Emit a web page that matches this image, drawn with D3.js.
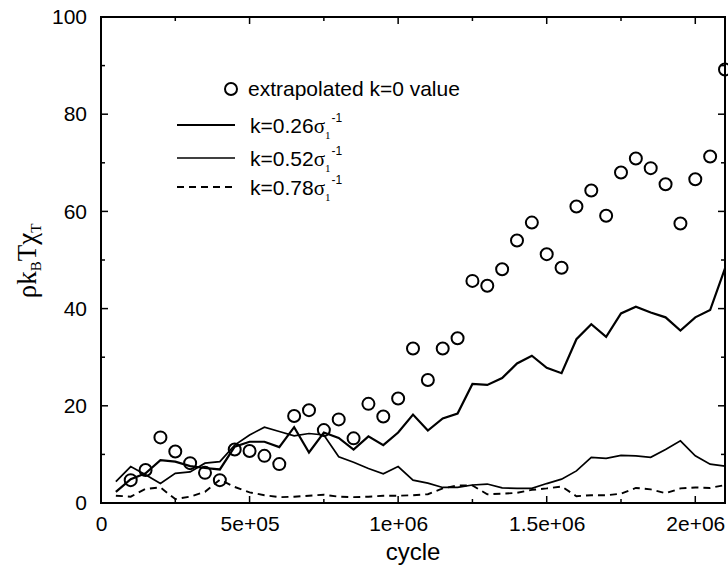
<!DOCTYPE html>
<html>
<head>
<meta charset="utf-8">
<script src="https://cdn.jsdelivr.net/npm/d3@7"></script>
<style>
  body { margin: 0; background: #fff; }
  svg { display: block; }
  text { font-family: "Liberation Sans", Arial, sans-serif; fill: #000; }
</style>
</head>
<body>
<svg id="chart" width="728" height="566"></svg>
<script>
// ---- data ----
const lineCycles = d3.range(42).map(i => (i + 1) * 50000);      // 5e4 .. 2.1e6
const circleCycles = d3.range(41).map(i => (i + 2) * 50000);    // 1e5 .. 2.1e6

const extrapolated = [4.7, 6.8, 13.5, 10.6, 8.2, 6.2, 4.7, 11.0, 10.7, 9.7, 8.0, 17.9, 19.1, 15.0,
  17.2, 13.3, 20.4, 17.8, 21.5, 31.8, 25.3, 31.8, 33.9, 45.7, 44.7, 48.1, 54.0, 57.7, 51.2, 48.4,
  61.0, 64.3, 59.1, 68.0, 70.9, 68.9, 65.6, 57.5, 66.6, 71.3, 89.2];

const k026 = [2.3, 4.9, 6.1, 8.8, 8.5, 7.6, 7.2, 6.9, 11.6, 12.6, 12.6, 11.5, 15.6, 10.4, 14.5,
  13.4, 11.0, 13.7, 11.9, 14.5, 18.2, 14.9, 17.4, 18.4, 24.5, 24.3, 25.7, 28.7, 30.3, 27.8, 26.7,
  33.7, 36.8, 34.2, 39.0, 40.4, 39.2, 38.2, 35.5, 38.2, 39.7, 48.3];

const k052 = [4.4, 7.5, 5.8, 4.0, 6.1, 6.4, 8.2, 8.5, 11.9, 14.0, 15.6, 14.7, 13.8, 14.3, 14.0,
  9.5, 8.4, 7.1, 6.0, 7.5, 4.7, 4.1, 3.2, 3.2, 3.7, 3.9, 3.1, 3.0, 3.0, 4.0, 4.9, 6.6, 9.4, 9.2,
  9.8, 9.7, 9.4, 11.0, 12.8, 9.7, 8.0, 7.6];

const k078 = [1.5, 1.3, 2.9, 3.2, 0.8, 1.3, 2.3, 4.8, 3.3, 2.2, 1.6, 1.2, 1.3, 1.5, 1.7, 1.3, 1.2,
  1.3, 1.5, 1.5, 1.6, 1.8, 3.0, 3.6, 3.6, 1.8, 1.9, 2.1, 2.7, 3.0, 3.4, 1.4, 1.6, 1.6, 1.9, 3.1,
  2.8, 2.0, 3.0, 3.2, 3.1, 3.7];

const xTicks = [0, 500000, 1000000, 1500000, 2000000];
const xTickLabels = ["0", "5e+05", "1e+06", "1.5e+06", "2e+06"];
const yTicks = [0, 20, 40, 60, 80, 100];
const yTickLabels = ["0", "20", "40", "60", "80", "100"];
const xMinor = [250000, 750000, 1250000, 1750000];
const yMinor = [10, 30, 50, 70, 90];

// ---- layout ----
const svg = d3.select("#chart");
const L = 101, R = 725, T = 17, B = 503;
const x = d3.scaleLinear().domain([0, 2100000]).range([L, R]);
const y = d3.scaleLinear().domain([0, 100]).range([B, T]);

// series
const line = d3.line().x(d => x(d[0])).y(d => y(d[1]));
const g = svg.append("g");
g.append("path").datum(lineCycles.map((c, i) => [c, k078[i]]))
  .attr("d", line).attr("fill", "none").attr("stroke", "#000")
  .attr("stroke-width", 1.9).attr("stroke-dasharray", "7,5");
g.append("path").datum(lineCycles.map((c, i) => [c, k052[i]]))
  .attr("d", line).attr("fill", "none").attr("stroke", "#000")
  .attr("stroke-width", 1.7).attr("stroke-linejoin", "miter");
g.append("path").datum(lineCycles.map((c, i) => [c, k026[i]]))
  .attr("d", line).attr("fill", "none").attr("stroke", "#000")
  .attr("stroke-width", 2.2).attr("stroke-linejoin", "miter");

g.selectAll("circle.pt").data(circleCycles.map((c, i) => [c, extrapolated[i]]))
  .join("circle").attr("class", "pt")
  .attr("cx", d => x(d[0])).attr("cy", d => y(d[1])).attr("r", 6)
  .attr("fill", "none").attr("stroke", "#000").attr("stroke-width", 2);

// axes (mirrored, inward ticks)
const axG = svg.append("g").attr("stroke", "#000").attr("stroke-width", 1.5);
function tickLines(vals, len) {
  vals.forEach(v => {
    axG.append("line").attr("x1", x(v)).attr("x2", x(v)).attr("y1", B).attr("y2", B - len);
    axG.append("line").attr("x1", x(v)).attr("x2", x(v)).attr("y1", T).attr("y2", T + len);
  });
}
function tickLinesY(vals, len) {
  vals.forEach(v => {
    axG.append("line").attr("y1", y(v)).attr("y2", y(v)).attr("x1", L).attr("x2", L + len);
    axG.append("line").attr("y1", y(v)).attr("y2", y(v)).attr("x1", R).attr("x2", R - len);
  });
}
tickLines(xTicks, 7); tickLines(xMinor, 4);
tickLinesY(yTicks, 7); tickLinesY(yMinor, 4);

// bottom axis labels via d3 axis
const xAxis = d3.axisBottom(x).tickValues(xTicks)
  .tickFormat((d, i) => xTickLabels[i]).tickSize(0).tickPadding(13);
const xa = svg.append("g").attr("transform", `translate(0,${B})`).call(xAxis);
xa.select(".domain").remove();
xa.selectAll("text").style("font-size", "21px").style("font-family", "Liberation Sans, Arial, sans-serif");

const yAxis = d3.axisLeft(y).tickValues(yTicks)
  .tickFormat((d, i) => yTickLabels[i]).tickSize(0).tickPadding(14);
const ya = svg.append("g").attr("transform", `translate(${L},0)`).call(yAxis);
ya.select(".domain").remove();
ya.selectAll("text").style("font-size", "21px").style("font-family", "Liberation Sans, Arial, sans-serif");

// frame
svg.append("rect").attr("x", L).attr("y", T).attr("width", R - L).attr("height", B - T)
  .attr("fill", "none").attr("stroke", "#000").attr("stroke-width", 2);

// axis titles
svg.append("text").attr("x", 413).attr("y", 560).attr("text-anchor", "middle")
  .style("font-size", "24px").text("cycle");

const yt = svg.append("text").attr("transform", "translate(36,261) rotate(-90)")
  .attr("text-anchor", "middle")
  .style("font-family", "Liberation Serif, Times New Roman, serif").style("font-size", "27px");
yt.append("tspan").text("ρk");
yt.append("tspan").attr("dy", 5).style("font-size", "15px").text("B");
yt.append("tspan").attr("dy", -5).text("Tχ");
yt.append("tspan").attr("dy", 5).style("font-size", "15px").text("T");

// legend
const lg = svg.append("g");
lg.append("circle").attr("cx", 231).attr("cy", 89).attr("r", 6)
  .attr("fill", "none").attr("stroke", "#000").attr("stroke-width", 2);
lg.append("text").attr("x", 248).attr("y", 96).style("font-size", "21px").text("extrapolated k=0 value");

const legRows = [
  { label: "0.26", y: 125, w: 2.2, dash: null },
  { label: "0.52", y: 158, w: 1.7, dash: null },
  { label: "0.78", y: 187, w: 1.9, dash: "7,5" }
];
legRows.forEach(r => {
  lg.append("line").attr("x1", 177).attr("x2", 235).attr("y1", r.y).attr("y2", r.y)
    .attr("stroke", "#000").attr("stroke-width", r.w).attr("stroke-dasharray", r.dash);
  const t = lg.append("text").attr("x", 250).attr("y", r.y + 8).style("font-size", "21px");
  t.append("tspan").text("k=" + r.label);
  t.append("tspan").style("font-family", "Liberation Serif, Times New Roman, serif").text("σ");
  t.append("tspan").attr("dy", 6).style("font-size", "11px")
    .style("font-family", "Liberation Serif, serif").text("1");
  t.append("tspan").attr("dy", -17).attr("dx", 1).style("font-size", "12px").text("-1");
});
</script>
</body>
</html>
